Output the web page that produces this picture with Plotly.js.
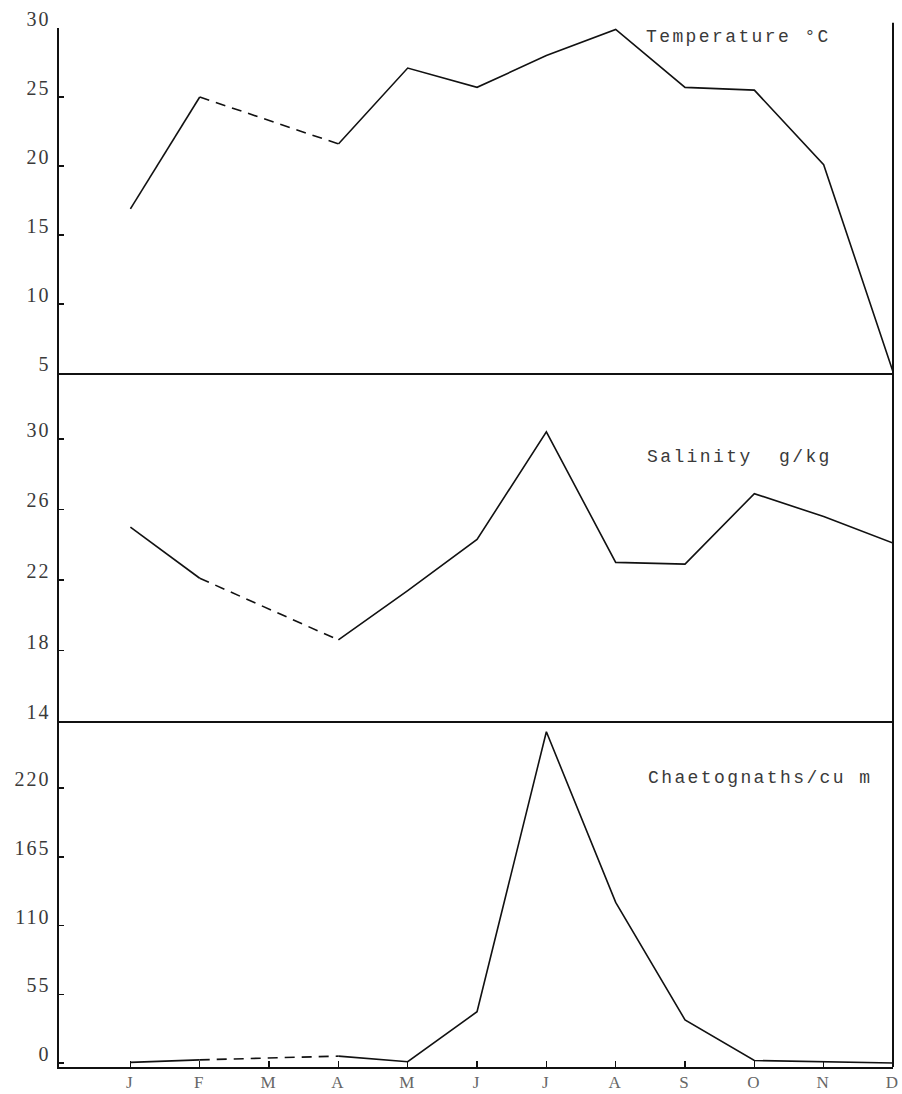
<!DOCTYPE html>
<html>
<head>
<meta charset="utf-8">
<script src="https://cdn.plot.ly/plotly-3.0.1.min.js"></script>
<style>
  html, body { margin: 0; padding: 0; background: #fff; }
  #chart { width: 902px; height: 1094px; }
  .annotation-text { letter-spacing: 2.4px; }
  g[class*="tick"] text { letter-spacing: 2px; }
</style>
</head>
<body>
<div id="chart"></div>
<script>
// ---- data ----
const months = ['J', 'F', 'M', 'A', 'M', 'J', 'J', 'A', 'S', 'O', 'N', 'D'];
const temperature = [16.9, 25.0, null, 21.6, 27.1, 25.7, 28.0, 29.9, 25.7, 25.5, 20.1, 5.1];
const salinity = [25.0, 22.1, null, 18.6, 21.4, 24.3, 30.4, 23.0, 22.9, 26.9, 25.6, 24.1];
const chaetognaths = [0.5, 2.5, null, 5.5, 1.0, 41, 265, 128.5, 34.5, 2.0, 0.8, 0];
const tempTicks = [5, 10, 15, 20, 25, 30];
const salTicks = [14, 18, 22, 26, 30];
const chaetTicks = [0, 55, 110, 165, 220];
const panelLabels = ['Temperature °C', 'Salinity  g/kg', 'Chaetognaths/cu m'];

// ---- helpers ----
const idx = months.map((_, i) => i);

// dashed bridge over missing months
function gapBridge(values) {
  const xs = [], ys = [];
  for (let i = 1; i < values.length - 1; i++) {
    if (values[i] === null && values[i - 1] !== null) {
      let j = i + 1;
      while (j < values.length && values[j] === null) j++;
      if (j < values.length) {
        xs.push(i - 1, j, null);
        ys.push(values[i - 1], values[j], null);
      }
    }
  }
  return { x: xs, y: ys };
}

const lineStyle = { color: '#111', width: 1.6 };
const dashStyle = { color: '#111', width: 1.6, dash: '10px,7px' };

function seriesTraces(values, xa, ya) {
  const b = gapBridge(values);
  return [
    { x: idx, y: values, xaxis: xa, yaxis: ya, mode: 'lines', line: lineStyle,
      connectgaps: false, hoverinfo: 'skip', showlegend: false },
    { x: b.x, y: b.y, xaxis: xa, yaxis: ya, mode: 'lines', line: dashStyle,
      connectgaps: false, hoverinfo: 'skip', showlegend: false }
  ];
}

const data = [
  ...seriesTraces(temperature, 'x', 'y'),
  ...seriesTraces(salinity, 'x2', 'y2'),
  ...seriesTraces(chaetognaths, 'x3', 'y3')
];

const tickFont = { family: 'Liberation Serif, serif', size: 20, color: '#3a3a3a' };
const xRange = [-1.03, 11];

function yAxis(domain, range, ticks) {
  return {
    domain: domain, range: range, fixedrange: true,
    showline: true, linecolor: '#111', linewidth: 2.5, mirror: false,
    showgrid: false, zeroline: false,
    ticks: 'inside', ticklen: 5, tickwidth: 1.5, tickcolor: '#111',
    tickmode: 'array', tickvals: ticks, ticktext: ticks.map(String),
    tickfont: tickFont, ticklabelshift: -9, ticklabelstandoff: 2
  };
}
function xAxis(anchor, showLabels) {
  return {
    anchor: anchor, range: xRange, fixedrange: true,
    showline: true, linecolor: '#111', linewidth: 2.2,
    showgrid: false, zeroline: false,
    ticks: showLabels ? 'inside' : '', ticklen: 6, tickwidth: 1.5, tickcolor: '#111',
    tickmode: 'array', tickvals: idx, ticktext: months,
    showticklabels: showLabels, ticklabeloverflow: 'allow',
    tickfont: { family: 'Liberation Serif, serif', size: 17, color: '#666' },
    ticklabelstandoff: -2
  };
}

const dTop = [0.6679, 1];
const dMid = [0.3330, 0.6679];
const dBot = [0, 0.3330];

const layout = {
  width: 902, height: 1094,
  margin: { l: 59, r: 9, t: 28, b: 27, pad: 0 },
  paper_bgcolor: '#fff', plot_bgcolor: '#fff',
  showlegend: false,
  xaxis: xAxis('y', false),
  xaxis2: xAxis('y2', false),
  xaxis3: xAxis('y3', true),
  yaxis: yAxis(dTop, [5, 30], tempTicks),
  yaxis2: yAxis(dMid, [14, 33.74], salTicks),
  yaxis3: yAxis(dBot, [-3.2, 273.6], chaetTicks),
  shapes: [
    { type: 'line', xref: 'paper', yref: 'paper', x0: 1, x1: 1, y0: 0, y1: 1.005,
      line: { color: '#111', width: 2 } }
  ],
  annotations: [
    { text: panelLabels[0], xref: 'paper', yref: 'paper', x: 0.701, y: 0.991 },
    { text: panelLabels[1], xref: 'paper', yref: 'paper', x: 0.703, y: 0.587 },
    { text: panelLabels[2], xref: 'paper', yref: 'paper', x: 0.704, y: 0.278 }
  ].map(a => Object.assign(a, {
    showarrow: false, xanchor: 'left', yanchor: 'middle',
    font: { family: 'Liberation Mono, monospace', size: 18, color: '#3a3a3a' }
  }))
};

Plotly.newPlot('chart', data, layout, { staticPlot: true, displayModeBar: false });
</script>
</body>
</html>
